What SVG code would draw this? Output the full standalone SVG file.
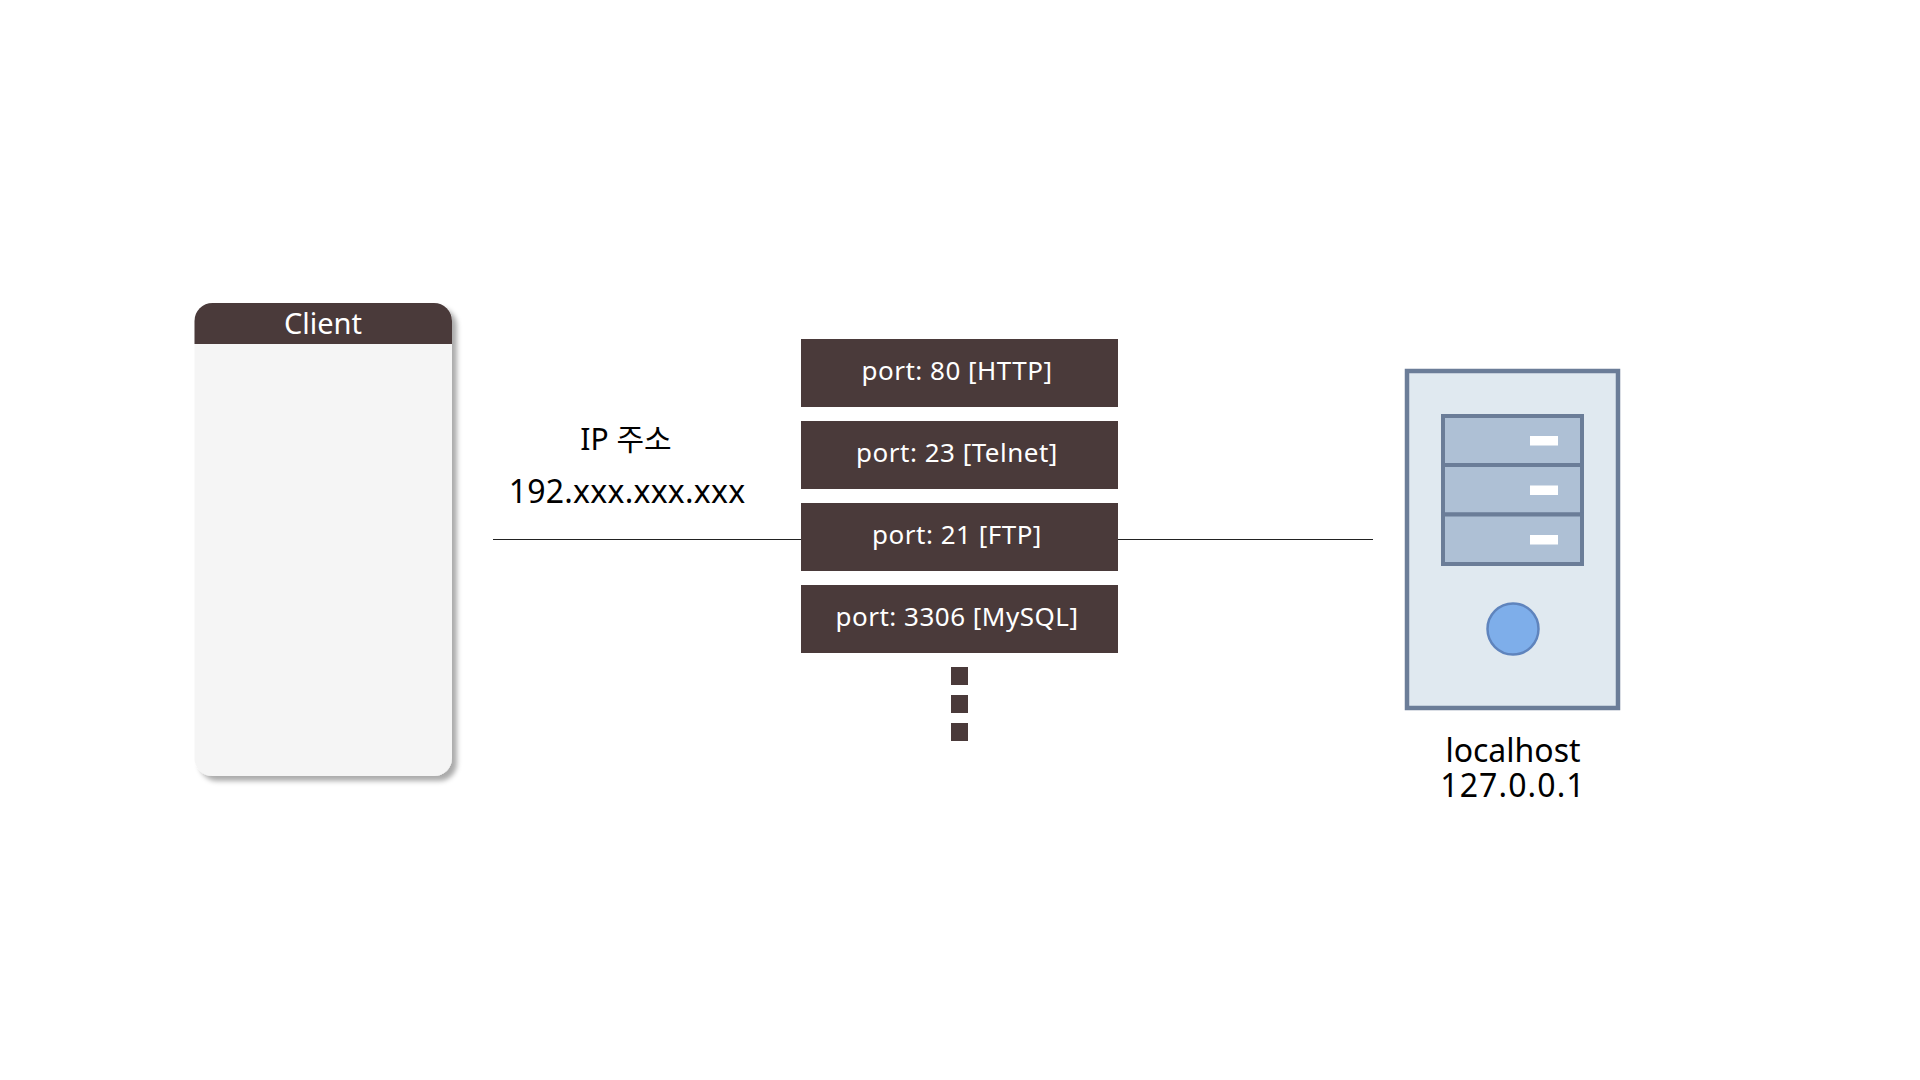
<svg xmlns="http://www.w3.org/2000/svg" width="1920" height="1080" viewBox="0 0 1920 1080">
<defs>
<style>
text{font-family:"Noto Sans","Noto Sans CJK KR",sans-serif;text-anchor:middle}
.port{fill:#4a3a3a}
.pl{fill:#fff;font-size:26px;letter-spacing:.5px}
.dk{fill:#000;font-size:32px}
.ln{stroke:#222;stroke-width:1;fill:none}
.sv{stroke:#6b7d98;stroke-width:4;fill:#aec0d5}
.led{fill:#fff}
</style>
<filter id="sh" x="-10%" y="-10%" width="120%" height="120%"><feDropShadow dx="5" dy="5" stdDeviation="2.500" flood-color="#000" flood-opacity="0.33"/></filter>
</defs>
<rect width="1920" height="1080" fill="#fff"/>
<g id="connectors">
<path class="ln" d="M493 539.500H801"/>
<path class="ln" d="M1118 539.500H1373"/>
</g>
<g id="client">
<rect x="194.500" y="303" width="257.500" height="473" rx="18" fill="#f5f5f5" filter="url(#sh)"/>
<path class="port" d="M194.500 344V321a18 18 0 0 1 18-18H434a18 18 0 0 1 18 18V344Z"/>
<text x="323" y="334" fill="#fff" font-size="29">Client</text>
</g>
<g id="ip-label">
<text class="dk" x="626" y="450" style="font-size:30px">IP 주소</text>
<text class="dk" x="627" y="503" style="letter-spacing:.25px">192.xxx.xxx.xxx</text>
</g>
<g id="port-80"><rect class="port" x="801" y="339" width="317" height="68"/><text class="pl" x="957" y="380">port: 80 [HTTP]</text></g>
<g id="port-23"><rect class="port" x="801" y="421" width="317" height="68"/><text class="pl" x="957" y="462">port: 23 [Telnet]</text></g>
<g id="port-21"><rect class="port" x="801" y="503" width="317" height="68"/><text class="pl" x="957" y="544">port: 21 [FTP]</text></g>
<g id="port-3306"><rect class="port" x="801" y="585" width="317" height="68"/><text class="pl" x="957" y="626">port: 3306 [MySQL]</text></g>
<g id="more">
<rect class="port" x="951" y="667" width="17" height="18"/>
<rect class="port" x="951" y="695" width="17" height="18"/>
<rect class="port" x="951" y="723" width="17" height="18"/>
</g>
<g id="server">
<rect x="1407" y="371" width="211" height="337" fill="#e0e9f0" stroke="#6b7d98" stroke-width="4.500"/>
<rect class="sv" x="1443" y="416" width="139" height="49"/>
<rect class="sv" x="1443" y="465" width="139" height="49.500"/>
<rect class="sv" x="1443" y="514.500" width="139" height="49.500"/>
<rect class="led" x="1530" y="436" width="28" height="9.500"/>
<rect class="led" x="1530" y="485.500" width="28" height="9.500"/>
<rect class="led" x="1530" y="535" width="28" height="9.500"/>
<circle cx="1513" cy="629" r="25.500" fill="#7eaeea" stroke="#5f84bd" stroke-width="2.500"/>
</g>
<g id="server-label">
<text class="dk" x="1513" y="762">localhost</text>
<text class="dk" x="1513" y="797" style="letter-spacing:1.100px">127.0.0.1</text>
</g>
</svg>
